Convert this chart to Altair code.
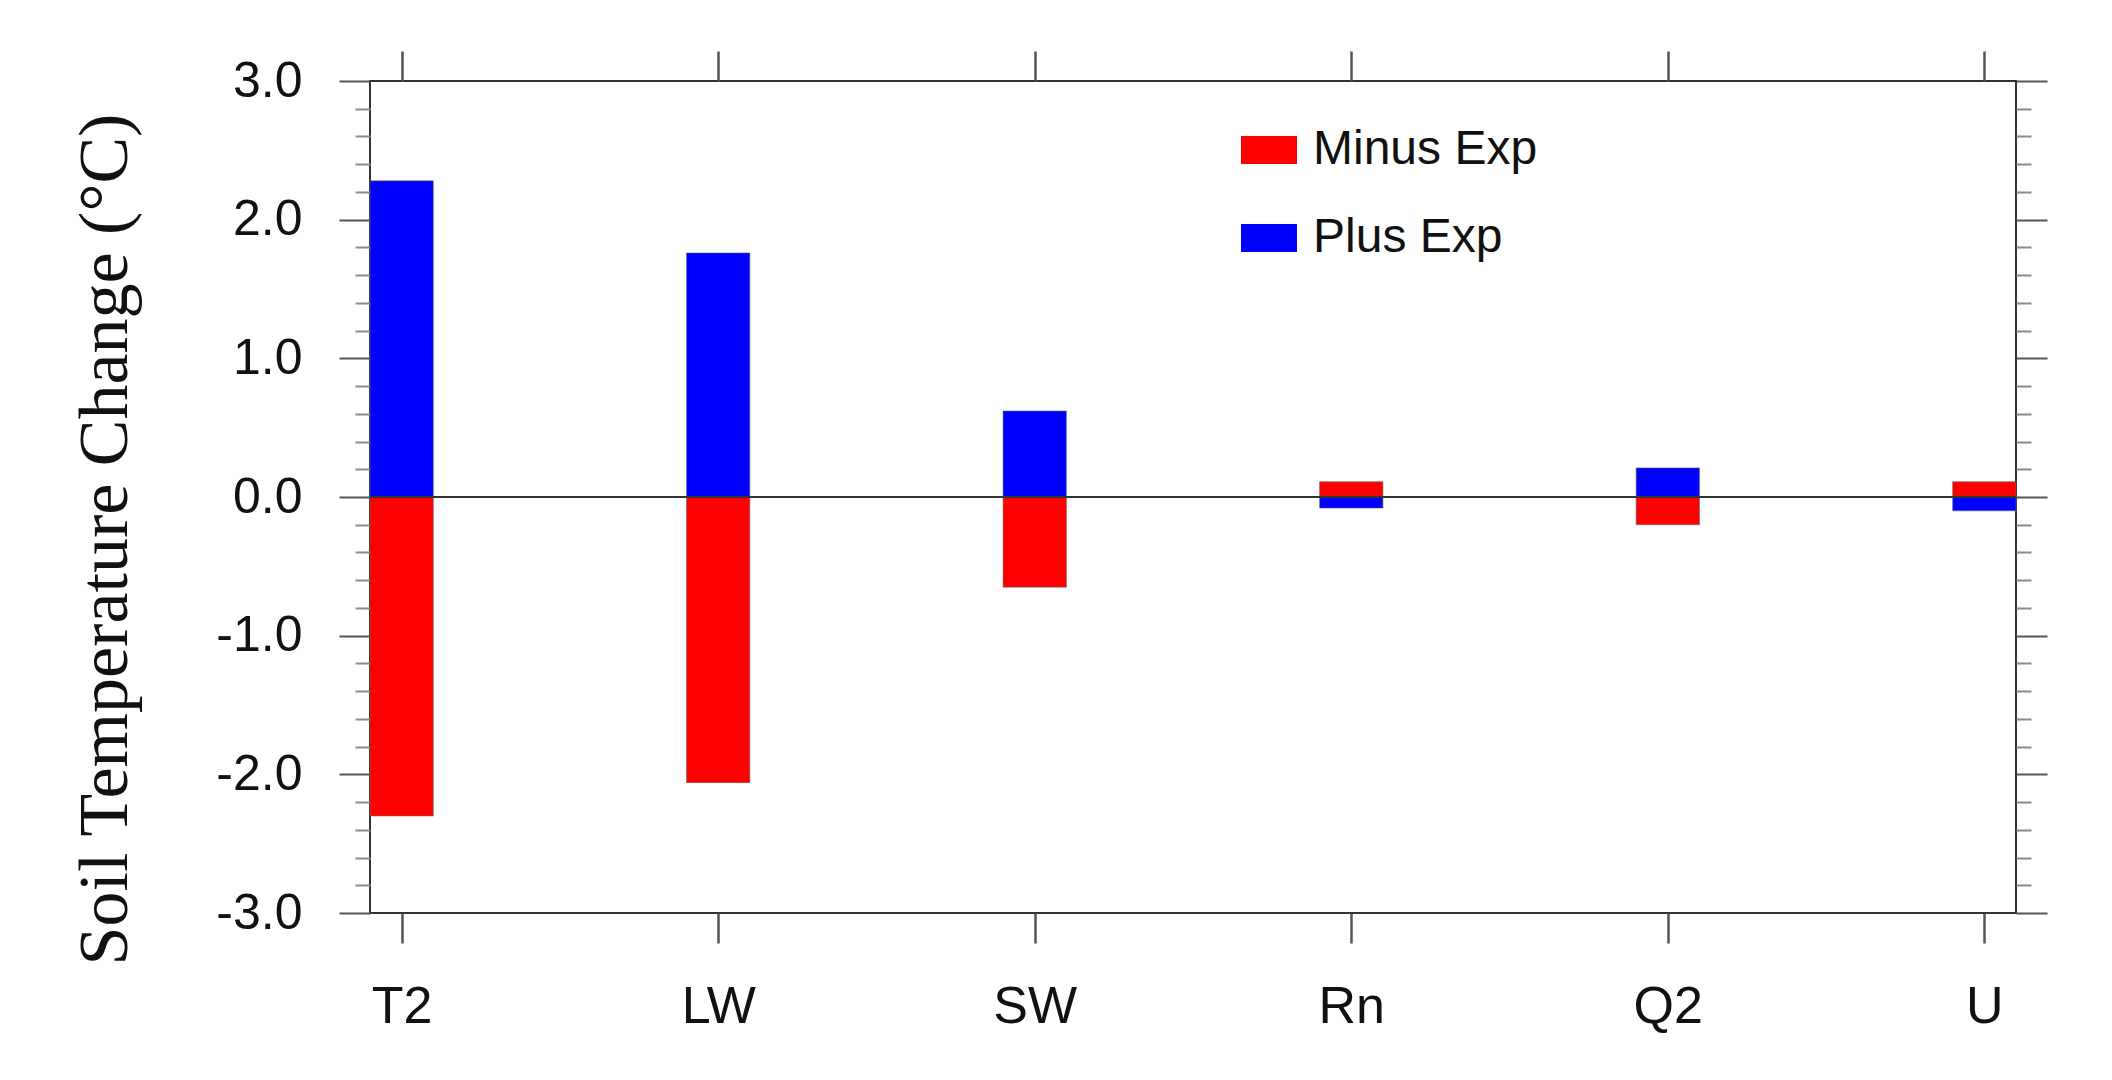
import json
import altair as alt
import numpy as np
import pandas as pd

# ---- data ----
categories = ["T2", "LW", "SW", "Rn", "Q2", "U"]
minus_exp = [-2.30, -2.06, -0.65, 0.11, -0.20, 0.11]
plus_exp = [2.28, 1.76, 0.62, -0.08, 0.21, -0.10]
series_names = ["Minus Exp", "Plus Exp"]
series_colors = ["#ff0000", "#0000ff"]
y_major = [-3, -2, -1, 0, 1, 2, 3]
y_title = "Soil Temperature Change (°C)"

rows = []
for i, c in enumerate(categories):
    rows.append({"cat": c, "idx": i, "series": series_names[0], "value": minus_exp[i]})
    rows.append({"cat": c, "idx": i, "series": series_names[1], "value": plus_exp[i]})
df = pd.DataFrame(rows)

y_ticks = [float(v) for v in np.round(np.arange(y_major[0], y_major[-1] + 0.001, 0.2), 1)]
x_ticks = list(range(len(categories)))

is_major = "abs(datum.value - round(datum.value)) < 0.001"
tick_size = {"condition": {"test": is_major, "value": 31}, "value": 15}
tick_color = {"condition": {"test": is_major, "value": "#555555"}, "value": "#8a8a8a"}
y_label_expr = (f"{is_major} ? (datum.value < 0 ? '-' : '') + format(abs(datum.value), '.1f') : ''")
x_label_expr = f"{json.dumps(categories)}[datum.value]"
legend_label_expr = f"datum.value == '{series_names[1]}' ? '\u2002' + datum.value : datum.value"

xscale = alt.Scale(domain=[-0.1, len(categories) - 1 + 0.1], nice=False, zero=False)
yscale = alt.Scale(domain=[y_major[0], y_major[-1]], nice=False, zero=False)

left_axis = alt.Axis(
    orient="left", values=y_ticks, tickSize=tick_size, tickColor=tick_color, tickWidth=2,
    labelExpr=y_label_expr, labelOverlap=False, labelFont="Liberation Sans", labelFontSize=50,
    labelColor="#111111", labelPadding=37, domain=False, grid=False,
    title=y_title, titleFont="Liberation Serif", titleFontSize=70, titleFontWeight="normal",
    titleColor="#111111", titleX=-265, titleY=458, titleBaseline="middle", titleAngle=270,
)
right_axis = alt.Axis(
    orient="right", values=y_ticks, tickSize=tick_size, tickColor=tick_color, tickWidth=2,
    labels=False, domain=False, grid=False, title=None,
)
bottom_axis = alt.Axis(
    orient="bottom", values=x_ticks, tickSize=30, tickColor="#555555", tickWidth=2.5,
    labelExpr=x_label_expr, labelOverlap=False, labelFlush=False, labelFont="Liberation Sans",
    labelFontSize=52, labelColor="#111111", labelPadding=38, domain=False, grid=False, title=None,
)
top_axis = alt.Axis(
    orient="top", values=x_ticks, tickSize=30, tickColor="#555555", tickWidth=2.5,
    labels=False, domain=False, grid=False, title=None,
)

bars = (
    alt.Chart(df)
    .transform_calculate(x0="datum.idx - 0.1", x1="datum.idx + 0.1")
    .mark_bar(stroke="#666666", strokeWidth=0.6)
    .encode(
        x=alt.X("x0:Q", scale=xscale, axis=bottom_axis),
        x2="x1:Q",
        y=alt.Y("value:Q", scale=yscale, axis=left_axis),
        y2=alt.Y2(datum=0),
        color=alt.Color(
            "series:N",
            scale=alt.Scale(domain=series_names, range=series_colors),
            legend=alt.Legend(
                title=None, orient="none", legendX=871, legendY=41, padding=0,
                symbolType="M-1,-0.5L1,-0.5L1,0.5L-1,0.5Z", symbolSize=3136,
                symbolStrokeWidth=0, labelFont="Liberation Sans", labelFontSize=48,
                labelColor="#111111", labelOffset=16, rowPadding=36, labelLimit=600,
                labelExpr=legend_label_expr,
            ),
        ),
    )
)

zero_line = (
    alt.Chart(pd.DataFrame({"zero": [0.0]}))
    .mark_rule(color="#333333", strokeWidth=2)
    .encode(y=alt.Y("zero:Q", scale=yscale, axis=right_axis))
)

top_ticks = (
    alt.Chart(df)
    .mark_point(opacity=0)
    .encode(x=alt.X("idx:Q", scale=xscale, axis=top_axis))
)

chart = (
    alt.layer(bars, zero_line, top_ticks)
    .resolve_axis(x="independent", y="independent")
    .properties(
        width=1646, height=832,
        autosize=alt.AutoSizeParams(type="none"),
        padding={"left": 362, "top": 73, "right": 60, "bottom": 120},
        background="white",
    )
    .configure_view(stroke="#333333", strokeWidth=2)
)

chart.save("out.html", embed_options={"renderer": "svg", "actions": False})
